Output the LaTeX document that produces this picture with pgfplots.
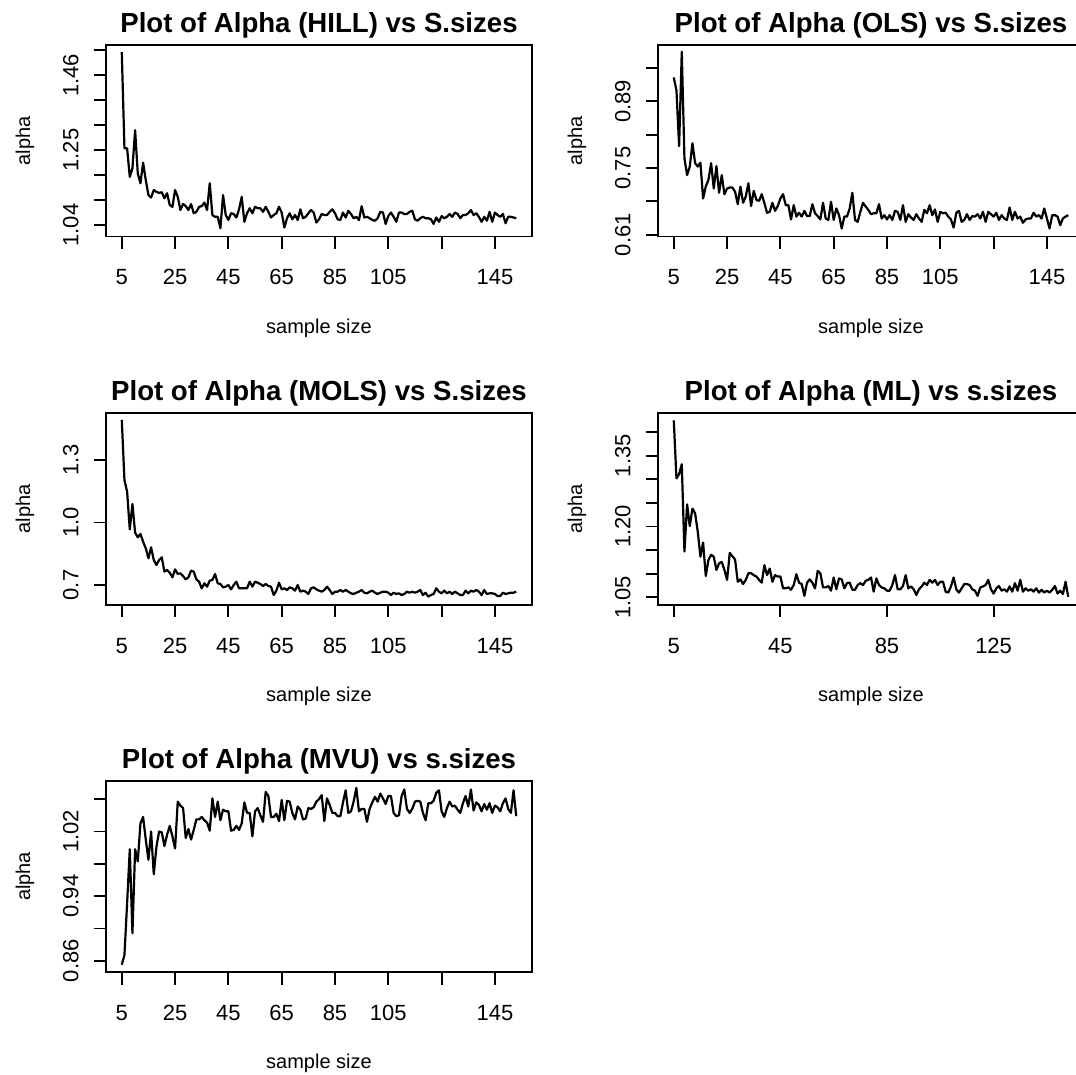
\documentclass[border=0pt]{standalone}
\usepackage{pgfplots}
\pgfplotsset{compat=1.18}
\usepackage{fontspec}
\setmainfont{Liberation Sans}
\setsansfont{Liberation Sans}
\pgfplotsset{
  rpanel/.style={
    scale only axis, width=213pt, height=95.75pt,
    xmin=-0.92, xmax=158.92,
    axis line style={line width=0.9pt},
    tick align=outside, tick pos=left,
    major tick length=6.2pt,
    every tick/.style={black, line width=0.9pt},
    tick label style={font=\fontsize{11}{13}\selectfont},
    /pgf/number format/assume math mode=true,
    xtick={5,25,45,65,85,105,125,145},
    xticklabels={5,25,45,65,85,105,,145},
    xticklabel style={anchor=base},
    xticklabel shift=18pt,
    yticklabel style={rotate=90, anchor=base},
    yticklabel shift=7.6pt,
    label style={font=\fontsize{11.2}{13}\selectfont},
    xlabel={sample size}, ylabel={alpha},
    every axis x label/.style={at={(axis description cs:0.5,-0.504)}, anchor=base},
    every axis y label/.style={at={(axis description cs:-0.178,0.5)}, rotate=90, anchor=base},
    every axis title/.style={at={(axis description cs:0.5,1.066)}, anchor=base, font=\bfseries\fontsize{13.8}{16}\selectfont},
  },
  rline/.style={black, line width=1.1pt, line join=round, no markers},
}
\begin{document}
\begin{tikzpicture}
\useasboundingbox (0,0) rectangle (538pt,-537.5pt);
\clip (0,0) rectangle (538pt,-537.5pt);
% HILL
\begin{axis}[rpanel, at={(53pt,-118.25pt)}, anchor=south west,
  title={Plot of Alpha (HILL) vs S.sizes},
  ymin=1.0078, ymax=1.5448,
  ytick={1.04,1.11,1.18,1.25,1.32,1.39,1.46,1.53},
  yticklabels={1.04,,,1.25,,,1.46,}]
\addplot[rline] coordinates {(5,1.525)(6,1.255)(7,1.255)(8,1.175)(9,1.199)(10,1.306)(11,1.185)(12,1.157)(13,1.215)(14,1.166)(15,1.124)(16,1.117)(17,1.138)(18,1.133)(19,1.130)(20,1.132)(21,1.115)(22,1.129)(23,1.096)(24,1.091)(25,1.138)(26,1.119)(27,1.082)(28,1.099)(29,1.093)(30,1.082)(31,1.099)(32,1.073)(33,1.077)(34,1.091)(35,1.093)(36,1.103)(37,1.082)(38,1.157)(39,1.068)(40,1.063)(41,1.063)(42,1.031)(43,1.124)(44,1.068)(45,1.054)(46,1.073)(47,1.071)(48,1.061)(49,1.084)(50,1.119)(51,1.049)(52,1.073)(53,1.087)(54,1.073)(55,1.091)(56,1.087)(57,1.087)(58,1.077)(59,1.091)(60,1.077)(61,1.061)(62,1.068)(63,1.073)(64,1.091)(65,1.075)(66,1.033)(67,1.059)(68,1.073)(69,1.056)(70,1.068)(71,1.054)(72,1.084)(73,1.059)(74,1.063)(75,1.073)(76,1.082)(77,1.075)(78,1.047)(79,1.056)(80,1.071)(81,1.068)(82,1.068)(83,1.077)(84,1.084)(85,1.073)(86,1.056)(87,1.054)(88,1.075)(89,1.061)(90,1.080)(91,1.071)(92,1.059)(93,1.063)(94,1.054)(95,1.093)(96,1.061)(97,1.063)(98,1.059)(99,1.054)(100,1.052)(101,1.059)(102,1.077)(103,1.075)(104,1.043)(105,1.065)(106,1.075)(107,1.063)(108,1.049)(109,1.075)(110,1.075)(111,1.071)(112,1.071)(113,1.077)(114,1.080)(115,1.056)(116,1.052)(117,1.059)(118,1.063)(119,1.059)(120,1.059)(121,1.056)(122,1.043)(123,1.061)(124,1.049)(125,1.065)(126,1.059)(127,1.063)(128,1.071)(129,1.063)(130,1.075)(131,1.071)(132,1.059)(133,1.068)(134,1.068)(135,1.073)(136,1.082)(137,1.068)(138,1.073)(139,1.063)(140,1.049)(141,1.063)(142,1.052)(143,1.077)(144,1.049)(145,1.075)(146,1.068)(147,1.063)(148,1.071)(149,1.045)(150,1.063)(151,1.063)(152,1.061)(153,1.059)};
\end{axis}
% OLS
\begin{axis}[rpanel, at={(329pt,-118.25pt)}, anchor=south west,
  title={Plot of Alpha (OLS) vs S.sizes},
  ymin=0.6062, ymax=1.0082,
  ytick={0.61,0.68,0.75,0.82,0.89,0.96},
  yticklabels={0.61,,0.75,,0.89,}]
\addplot[rline] coordinates {(5,0.940)(6,0.913)(7,0.796)(8,0.994)(9,0.770)(10,0.735)(11,0.753)(12,0.802)(13,0.760)(14,0.753)(15,0.761)(16,0.686)(17,0.711)(18,0.725)(19,0.760)(20,0.707)(21,0.754)(22,0.698)(23,0.735)(24,0.695)(25,0.707)(26,0.709)(27,0.709)(28,0.700)(29,0.674)(30,0.711)(31,0.677)(32,0.690)(33,0.718)(34,0.670)(35,0.702)(36,0.683)(37,0.681)(38,0.695)(39,0.676)(40,0.656)(41,0.658)(42,0.677)(43,0.660)(44,0.670)(45,0.686)(46,0.695)(47,0.672)(48,0.672)(49,0.642)(50,0.672)(51,0.648)(52,0.656)(53,0.648)(54,0.660)(55,0.649)(56,0.649)(57,0.674)(58,0.655)(59,0.649)(60,0.642)(61,0.677)(62,0.644)(63,0.641)(64,0.679)(65,0.641)(66,0.665)(67,0.651)(68,0.623)(69,0.648)(70,0.648)(71,0.665)(72,0.698)(73,0.641)(74,0.637)(75,0.658)(76,0.677)(77,0.669)(78,0.662)(79,0.653)(80,0.655)(81,0.655)(82,0.674)(83,0.644)(84,0.651)(85,0.642)(86,0.651)(87,0.641)(88,0.660)(89,0.658)(90,0.641)(91,0.672)(92,0.637)(93,0.653)(94,0.646)(95,0.641)(96,0.653)(97,0.644)(98,0.637)(99,0.662)(100,0.655)(101,0.672)(102,0.651)(103,0.663)(104,0.637)(105,0.658)(106,0.655)(107,0.656)(108,0.648)(109,0.642)(110,0.625)(111,0.656)(112,0.660)(113,0.637)(114,0.641)(115,0.653)(116,0.641)(117,0.649)(118,0.648)(119,0.653)(120,0.644)(121,0.658)(122,0.637)(123,0.658)(124,0.653)(125,0.648)(126,0.656)(127,0.641)(128,0.651)(129,0.644)(130,0.641)(131,0.667)(132,0.641)(133,0.658)(134,0.644)(135,0.648)(136,0.635)(137,0.642)(138,0.644)(139,0.644)(140,0.656)(141,0.648)(142,0.651)(143,0.644)(144,0.665)(145,0.644)(146,0.623)(147,0.651)(148,0.651)(149,0.648)(150,0.630)(151,0.644)(152,0.648)(153,0.651)};
\end{axis}
% MOLS
\begin{axis}[rpanel, at={(53pt,-302.4pt)}, anchor=south west,
  title={Plot of Alpha (MOLS) vs S.sizes},
  ymin=0.605, ymax=1.524,
  ytick={0.7,1.0,1.3},
  yticklabels={0.7,1.0,1.3}]
\addplot[rline] coordinates {(5,1.492)(6,1.204)(7,1.148)(8,0.967)(9,1.089)(10,0.951)(11,0.929)(12,0.945)(13,0.908)(14,0.876)(15,0.828)(16,0.881)(17,0.820)(18,0.796)(19,0.820)(20,0.833)(21,0.764)(22,0.772)(23,0.759)(24,0.737)(25,0.775)(26,0.753)(27,0.756)(28,0.743)(29,0.727)(30,0.737)(31,0.769)(32,0.764)(33,0.727)(34,0.716)(35,0.684)(36,0.708)(37,0.692)(38,0.721)(39,0.724)(40,0.753)(41,0.708)(42,0.705)(43,0.689)(44,0.692)(45,0.700)(46,0.679)(47,0.700)(48,0.716)(49,0.684)(50,0.684)(51,0.684)(52,0.684)(53,0.716)(54,0.692)(55,0.716)(56,0.711)(57,0.705)(58,0.695)(59,0.705)(60,0.695)(61,0.692)(62,0.652)(63,0.673)(64,0.711)(65,0.679)(66,0.684)(67,0.676)(68,0.689)(69,0.684)(70,0.673)(71,0.700)(72,0.668)(73,0.673)(74,0.668)(75,0.657)(76,0.684)(77,0.689)(78,0.679)(79,0.673)(80,0.668)(81,0.676)(82,0.692)(83,0.676)(84,0.657)(85,0.668)(86,0.668)(87,0.676)(88,0.668)(89,0.676)(90,0.668)(91,0.660)(92,0.657)(93,0.663)(94,0.668)(95,0.676)(96,0.663)(97,0.660)(98,0.668)(99,0.673)(100,0.663)(101,0.657)(102,0.663)(103,0.668)(104,0.668)(105,0.663)(106,0.652)(107,0.663)(108,0.657)(109,0.660)(110,0.652)(111,0.657)(112,0.668)(113,0.663)(114,0.668)(115,0.663)(116,0.668)(117,0.676)(118,0.652)(119,0.663)(120,0.644)(121,0.652)(122,0.657)(123,0.684)(124,0.668)(125,0.660)(126,0.673)(127,0.660)(128,0.668)(129,0.657)(130,0.668)(131,0.660)(132,0.652)(133,0.652)(134,0.673)(135,0.660)(136,0.673)(137,0.668)(138,0.676)(139,0.668)(140,0.652)(141,0.676)(142,0.657)(143,0.660)(144,0.660)(145,0.657)(146,0.647)(147,0.647)(148,0.663)(149,0.657)(150,0.660)(151,0.663)(152,0.663)(153,0.668)};
\end{axis}
% ML
\begin{axis}[rpanel, at={(329pt,-302.4pt)}, anchor=south west,
  title={Plot of Alpha (ML) vs s.sizes},
  xtick={5,45,85,125}, xticklabels={5,45,85,125},
  ymin=1.0341, ymax=1.4399,
  ytick={1.05,1.10,1.15,1.20,1.25,1.30,1.35,1.40},
  yticklabels={1.05,,,1.20,,,1.35,}]
\addplot[rline] coordinates {(5,1.425)(6,1.302)(7,1.311)(8,1.332)(9,1.147)(10,1.247)(11,1.201)(12,1.238)(13,1.228)(14,1.189)(15,1.136)(16,1.166)(17,1.095)(18,1.129)(19,1.140)(20,1.136)(21,1.108)(22,1.122)(23,1.125)(24,1.108)(25,1.087)(26,1.144)(27,1.137)(28,1.130)(29,1.083)(30,1.088)(31,1.078)(32,1.087)(33,1.101)(34,1.101)(35,1.097)(36,1.094)(37,1.087)(38,1.081)(39,1.118)(40,1.097)(41,1.111)(42,1.083)(43,1.097)(44,1.094)(45,1.094)(46,1.069)(47,1.069)(48,1.071)(49,1.066)(50,1.076)(51,1.099)(52,1.081)(53,1.078)(54,1.053)(55,1.081)(56,1.088)(57,1.081)(58,1.069)(59,1.106)(60,1.101)(61,1.071)(62,1.071)(63,1.074)(64,1.064)(65,1.092)(66,1.067)(67,1.090)(68,1.088)(69,1.069)(70,1.080)(71,1.081)(72,1.066)(73,1.066)(74,1.076)(75,1.080)(76,1.076)(77,1.085)(78,1.087)(79,1.092)(80,1.062)(81,1.090)(82,1.076)(83,1.071)(84,1.069)(85,1.064)(86,1.064)(87,1.076)(88,1.097)(89,1.067)(90,1.067)(91,1.074)(92,1.097)(93,1.069)(94,1.073)(95,1.067)(96,1.055)(97,1.067)(98,1.073)(99,1.081)(100,1.076)(101,1.087)(102,1.081)(103,1.087)(104,1.076)(105,1.083)(106,1.083)(107,1.062)(108,1.060)(109,1.073)(110,1.092)(111,1.067)(112,1.060)(113,1.069)(114,1.078)(115,1.078)(116,1.076)(117,1.067)(118,1.064)(119,1.053)(120,1.071)(121,1.073)(122,1.076)(123,1.087)(124,1.067)(125,1.058)(126,1.069)(127,1.074)(128,1.064)(129,1.067)(130,1.062)(131,1.073)(132,1.062)(133,1.080)(134,1.064)(135,1.087)(136,1.062)(137,1.069)(138,1.064)(139,1.067)(140,1.062)(141,1.069)(142,1.060)(143,1.066)(144,1.060)(145,1.064)(146,1.060)(147,1.066)(148,1.074)(149,1.058)(150,1.064)(151,1.057)(152,1.083)(153,1.051)};
\end{axis}
% MVU
\begin{axis}[rpanel, at={(53pt,-486.1pt)}, anchor=south west,
  title={Plot of Alpha (MVU) vs s.sizes},
  ymin=0.8458, ymax=1.0829,
  ytick={0.86,0.90,0.94,0.98,1.02,1.06},
  yticklabels={0.86,,0.94,,1.02,}]
\addplot[rline] coordinates {(5,0.855)(6,0.867)(7,0.931)(8,0.998)(9,0.894)(10,0.998)(11,0.983)(12,1.030)(13,1.038)(14,1.010)(15,0.985)(16,1.020)(17,0.967)(18,1.001)(19,1.020)(20,1.019)(21,1.002)(22,1.016)(23,1.027)(24,1.014)(25,0.999)(26,1.057)(27,1.052)(28,1.049)(29,1.012)(30,1.023)(31,1.010)(32,1.022)(33,1.035)(34,1.035)(35,1.038)(36,1.034)(37,1.031)(38,1.021)(39,1.061)(40,1.038)(41,1.057)(42,1.034)(43,1.047)(44,1.045)(45,1.045)(46,1.021)(47,1.022)(48,1.027)(49,1.022)(50,1.030)(51,1.056)(52,1.043)(53,1.043)(54,1.014)(55,1.045)(56,1.049)(57,1.040)(58,1.032)(59,1.069)(60,1.064)(61,1.038)(62,1.038)(63,1.042)(64,1.033)(65,1.059)(66,1.034)(67,1.058)(68,1.057)(69,1.043)(70,1.035)(71,1.051)(72,1.047)(73,1.035)(74,1.036)(75,1.049)(76,1.048)(77,1.050)(78,1.057)(79,1.060)(80,1.065)(81,1.033)(82,1.061)(83,1.053)(84,1.043)(85,1.043)(86,1.039)(87,1.039)(88,1.056)(89,1.071)(90,1.043)(91,1.045)(92,1.057)(93,1.074)(94,1.045)(95,1.048)(96,1.048)(97,1.032)(98,1.048)(99,1.056)(100,1.063)(101,1.057)(102,1.067)(103,1.061)(104,1.054)(105,1.064)(106,1.064)(107,1.043)(108,1.039)(109,1.040)(110,1.064)(111,1.072)(112,1.048)(113,1.043)(114,1.048)(115,1.057)(116,1.058)(117,1.057)(118,1.043)(119,1.034)(120,1.055)(121,1.055)(122,1.058)(123,1.068)(124,1.071)(125,1.045)(126,1.038)(127,1.049)(128,1.057)(129,1.051)(130,1.052)(131,1.047)(132,1.043)(133,1.055)(134,1.064)(135,1.051)(136,1.072)(137,1.046)(138,1.056)(139,1.053)(140,1.045)(141,1.054)(142,1.047)(143,1.055)(144,1.043)(145,1.052)(146,1.050)(147,1.045)(148,1.055)(149,1.061)(150,1.048)(151,1.043)(152,1.071)(153,1.039)};
\end{axis}
\end{tikzpicture}
\end{document}
